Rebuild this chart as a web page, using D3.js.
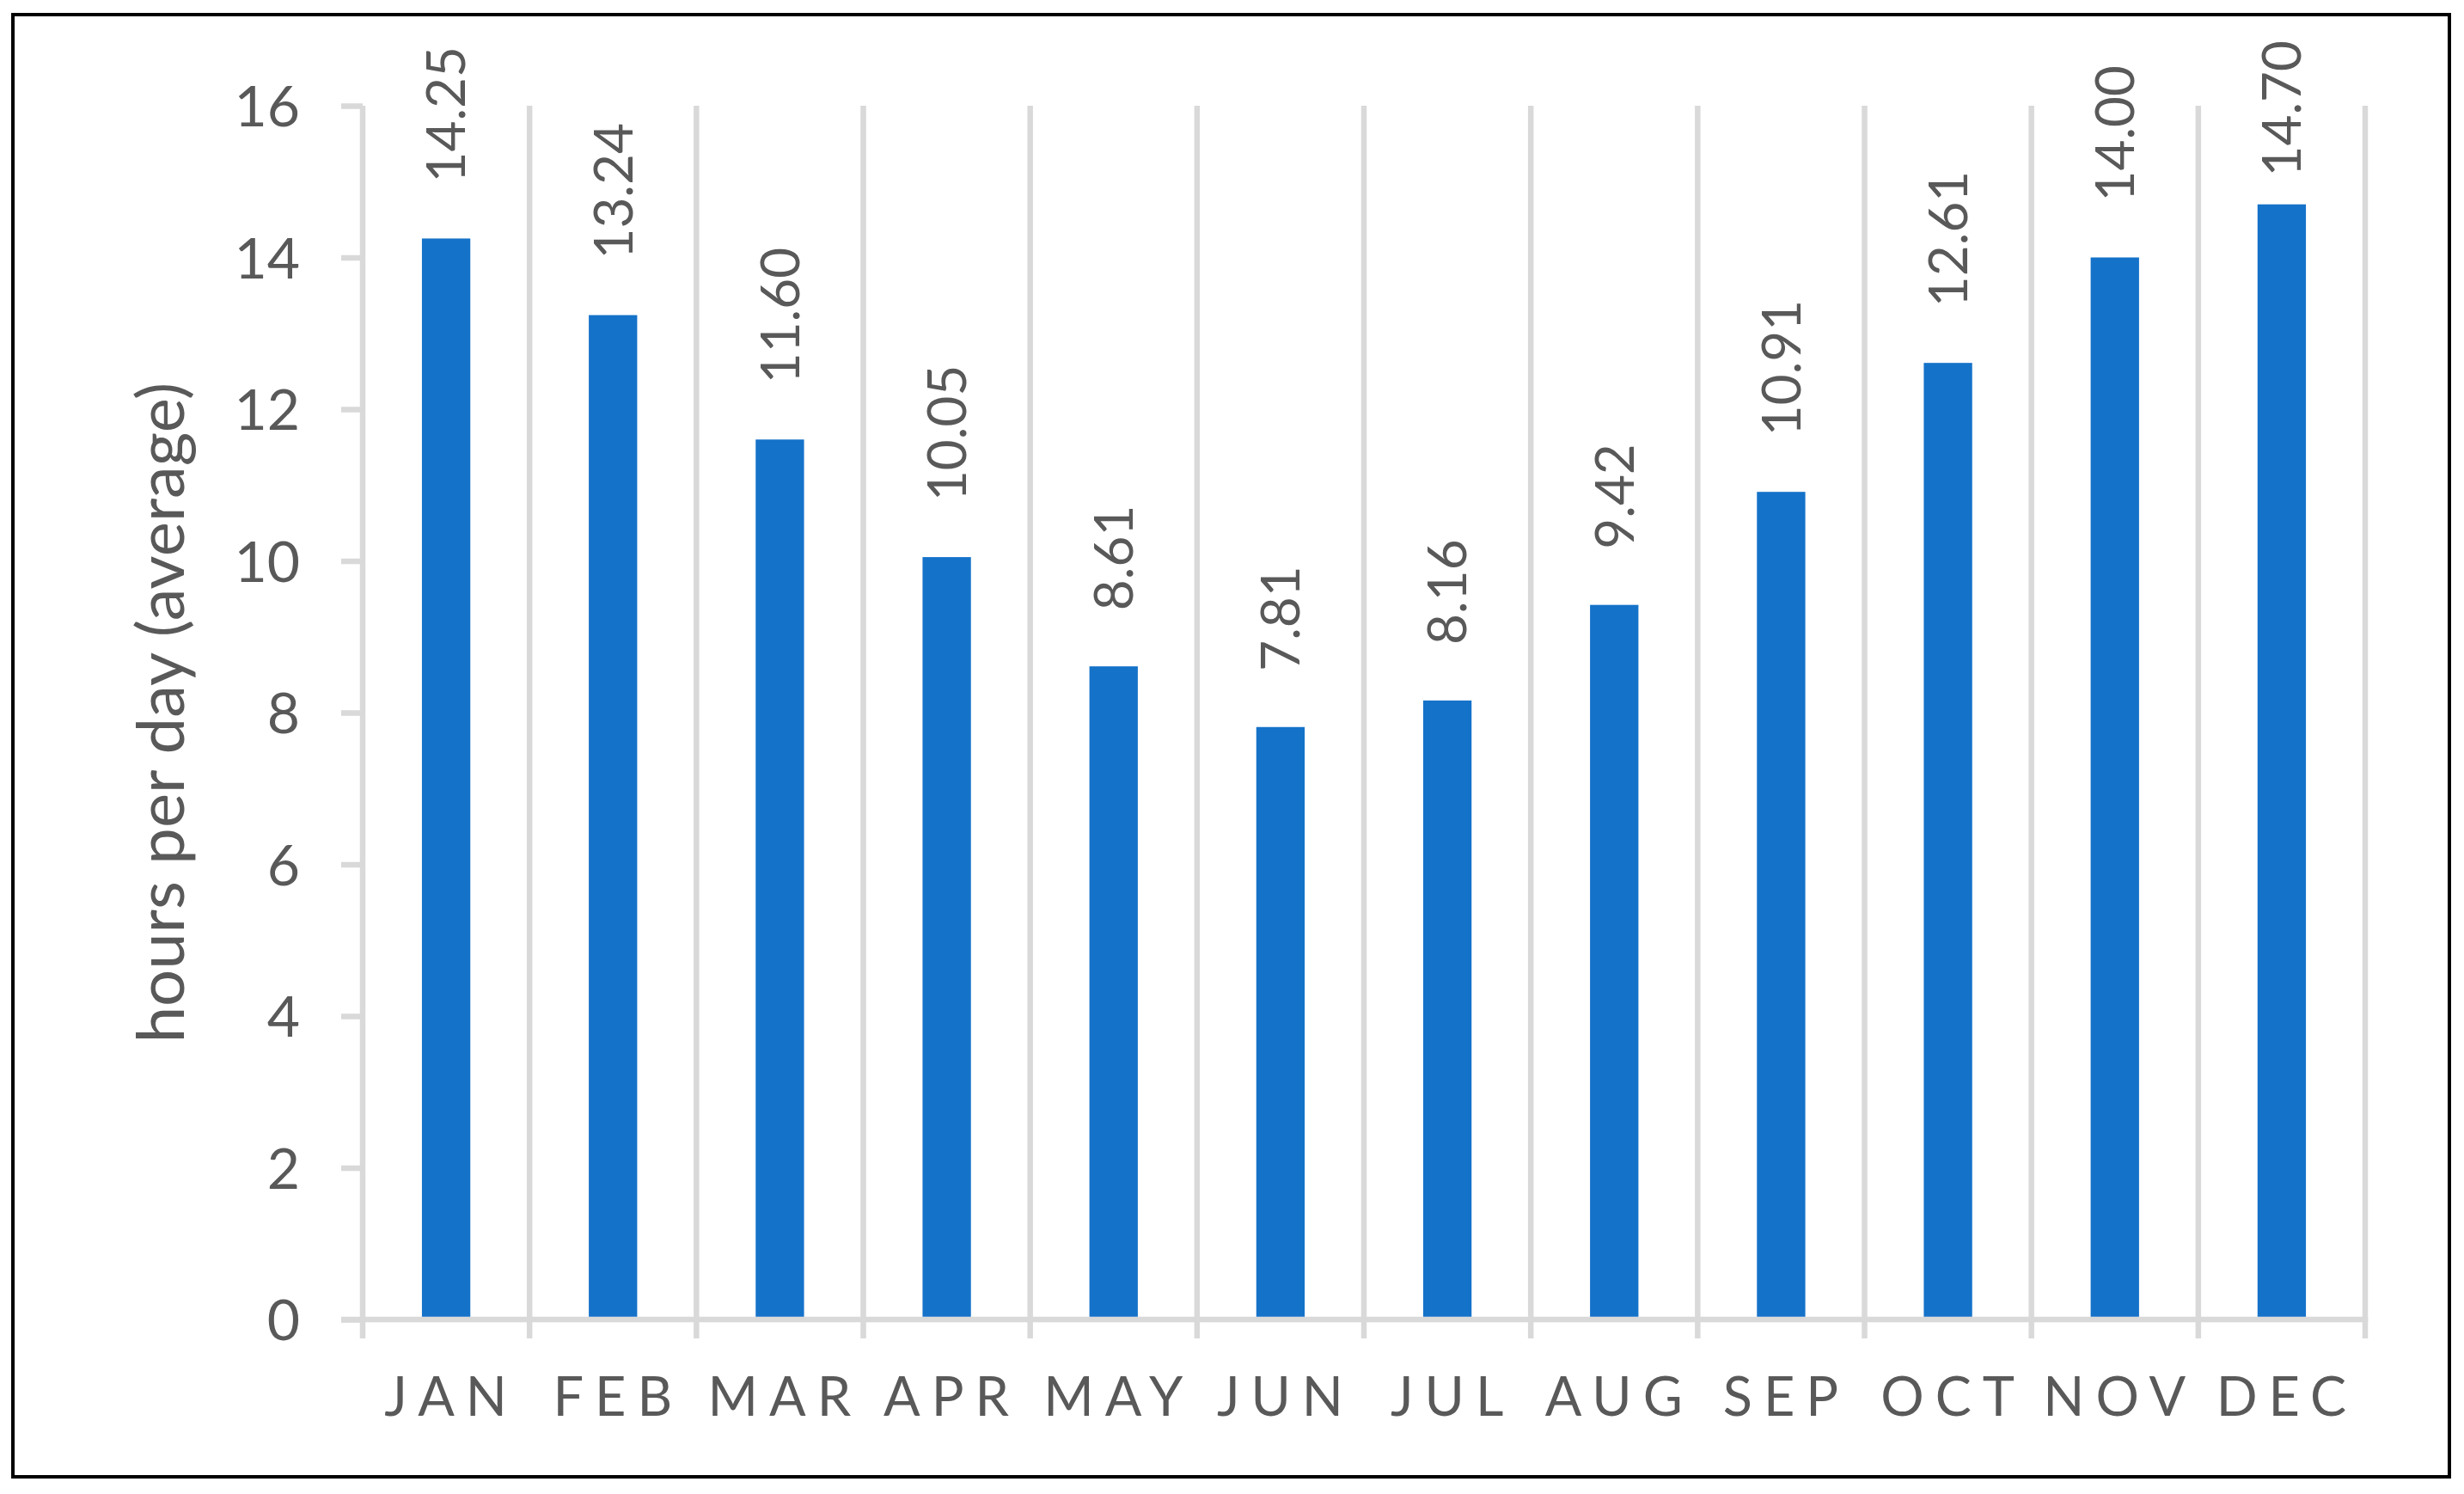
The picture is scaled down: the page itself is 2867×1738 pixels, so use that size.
<!DOCTYPE html>
<html>
<head>
<meta charset="utf-8">
<script src="https://cdn.jsdelivr.net/npm/d3@7/dist/d3.min.js"></script>
<style>
  html, body { margin: 0; padding: 0; background: #ffffff; }
  svg { display: block; }
</style>
</head>
<body>
<svg id="chart" width="2867" height="1738"></svg>
<script>
const months = ["JAN","FEB","MAR","APR","MAY","JUN","JUL","AUG","SEP","OCT","NOV","DEC"];
const hours = [14.25, 13.24, 11.60, 10.05, 8.61, 7.81, 8.16, 9.42, 10.91, 12.61, 14.00, 14.70];
const yTickValues = [0, 2, 4, 6, 8, 10, 12, 14, 16];
const yTitle = "hours per day (average)";

const W = 2867, H = 1738;
const plot = { left: 422, right: 2752, top: 123, bottom: 1535 };
const grid = "#d9d9d9", ink = "#595959", barColor = "#1572c9";
const font = "Lato, 'Open Sans', sans-serif";
const lineW = 6.5;

const svg = d3.select("#chart");
svg.append("rect").attr("x", 0).attr("y", 0).attr("width", W).attr("height", H).attr("fill", "#fff");
svg.append("rect").attr("x", 15).attr("y", 17).attr("width", 2835).attr("height", 1701)
  .attr("fill", "none").attr("stroke", "#000").attr("stroke-width", 4);

const x = d3.scaleBand().domain(months).range([plot.left, plot.right]).paddingInner(0).paddingOuter(0);
const y = d3.scaleLinear().domain([0, 16]).range([plot.bottom, plot.top]);

// category separators
const bounds = months.map(m => x(m)).concat([x.range()[1]]);
svg.append("g").selectAll("line").data(bounds).join("line")
  .attr("x1", d => d).attr("x2", d => d)
  .attr("y1", y(16)).attr("y2", y(0) + 22)
  .attr("stroke", grid).attr("stroke-width", lineW);

// y axis
const yAxis = d3.axisLeft(y).tickValues(yTickValues).tickSize(25).tickSizeOuter(0).tickPadding(48)
  .tickFormat(d3.format("d"));
const gy = svg.append("g").attr("transform", `translate(${plot.left},0)`).call(yAxis);
gy.select(".domain").remove();
gy.selectAll(".tick line").attr("stroke", grid).attr("stroke-width", lineW);
gy.selectAll(".tick text").attr("fill", ink).attr("font-family", font).attr("font-size", 66)
  .attr("dy", "0.36em");

// baseline
svg.append("line").attr("x1", plot.left - 25).attr("x2", plot.right + lineW / 2)
  .attr("y1", y(0)).attr("y2", y(0)).attr("stroke", grid).attr("stroke-width", lineW);

// bars
const barW = x.bandwidth() * 0.29;
svg.append("g").selectAll("rect").data(hours).join("rect")
  .attr("x", (d, i) => x(months[i]) + x.bandwidth() / 2 - barW / 2)
  .attr("width", barW)
  .attr("y", d => y(d))
  .attr("height", d => y(0) - y(d) - lineW / 2)
  .attr("fill", barColor);

// value labels
const fmt = d3.format(".2f");
const labels = svg.append("g").selectAll("text").data(hours).join("text")
  .attr("font-family", font).attr("font-size", 62).attr("fill", ink)
  .attr("text-anchor", "start").attr("dy", "0.36em")
  .text(d => fmt(d));
labels.each(function(d, i) {
  const L = this.getComputedTextLength();
  let start = y(d) - 65;
  if (start - L < 47) start = 47 + L;
  const cx = x(months[i]) + x.bandwidth() / 2;
  d3.select(this).attr("transform", `translate(${cx},${start}) rotate(-90)`);
});

// x labels
svg.append("g").selectAll("text").data(months).join("text")
  .attr("x", d => x(d) + x.bandwidth() / 2 + 6)
  .attr("y", 1647)
  .attr("text-anchor", "middle")
  .attr("font-family", font).attr("font-size", 63).attr("fill", ink)
  .attr("letter-spacing", "13px")
  .text(d => d);

// y title
svg.append("text")
  .attr("transform", `translate(214,${(plot.top + plot.bottom) / 2}) rotate(-90)`)
  .attr("text-anchor", "middle")
  .attr("font-family", font).attr("font-size", 76).attr("fill", ink)
  .text(yTitle);
</script>
</body>
</html>
